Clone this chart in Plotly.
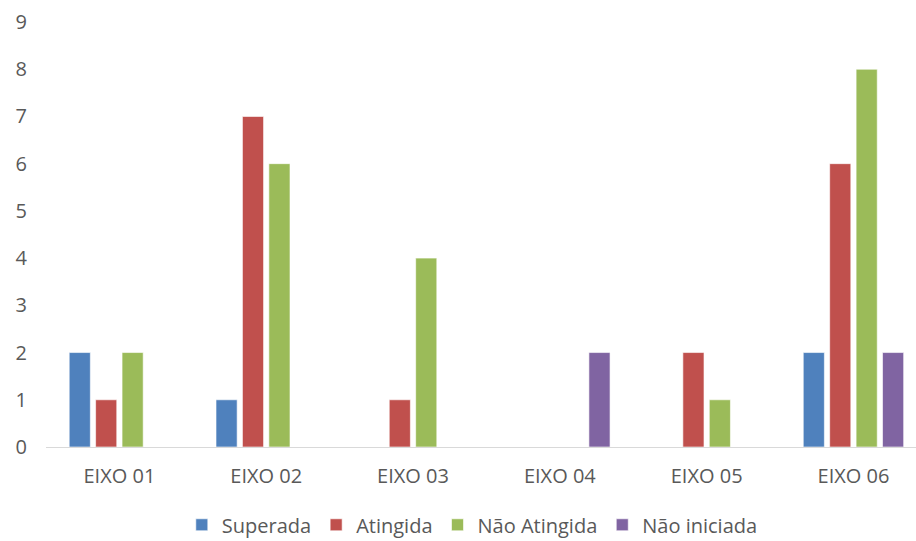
import plotly.graph_objects as go

categories = ["EIXO 01", "EIXO 02", "EIXO 03", "EIXO 04", "EIXO 05", "EIXO 06"]
superada = [2, 1, 0, 0, 0, 2]
atingida = [1, 7, 1, 0, 2, 6]
nao_atingida = [2, 6, 4, 0, 1, 8]
nao_iniciada = [0, 0, 0, 2, 0, 2]

series = [
    ("Superada", superada, "#4F81BD"),
    ("Atingida", atingida, "#C0504D"),
    ("Não Atingida", nao_atingida, "#9BBB59"),
    ("Não iniciada", nao_iniciada, "#8064A2"),
]

fig = go.Figure()
for name, vals, col in series:
    fig.add_trace(go.Bar(
        x=categories, y=vals, name=name,
        marker=dict(color=col, line=dict(color="rgba(255,255,255,0.6)", width=1)),
    ))

font_family = "'Open Sans', sans-serif"
fig.update_layout(
    barmode="group",
    bargap=0.28,
    bargroupgap=0.2,
    width=916, height=541,
    margin=dict(l=46, r=0, t=22, b=94, autoexpand=False),
    plot_bgcolor="white", paper_bgcolor="white",
    font=dict(family=font_family, size=20, color="#595959"),
    showlegend=True,
    legend=dict(orientation="h", x=0.49, xanchor="center", y=-0.183, yanchor="middle",
                font=dict(size=20, color="#595959"), itemwidth=30, traceorder="normal"),
    xaxis=dict(range=[-0.5, 5.426], showgrid=False, showline=True, linecolor="#D9D9D9",
               linewidth=1, ticks="", automargin=False,
               tickfont=dict(size=20, color="#595959"), ticklabelstandoff=11),
    yaxis=dict(range=[0, 9], dtick=1, showgrid=False, zeroline=False, showline=False,
               automargin=False,
               tickfont=dict(size=20, color="#595959"), ticklabelstandoff=18),
)

fig.write_html("out.html", config={"displayModeBar": False},
               post_script="document.body.style.margin='0';document.body.style.overflow='hidden';")
